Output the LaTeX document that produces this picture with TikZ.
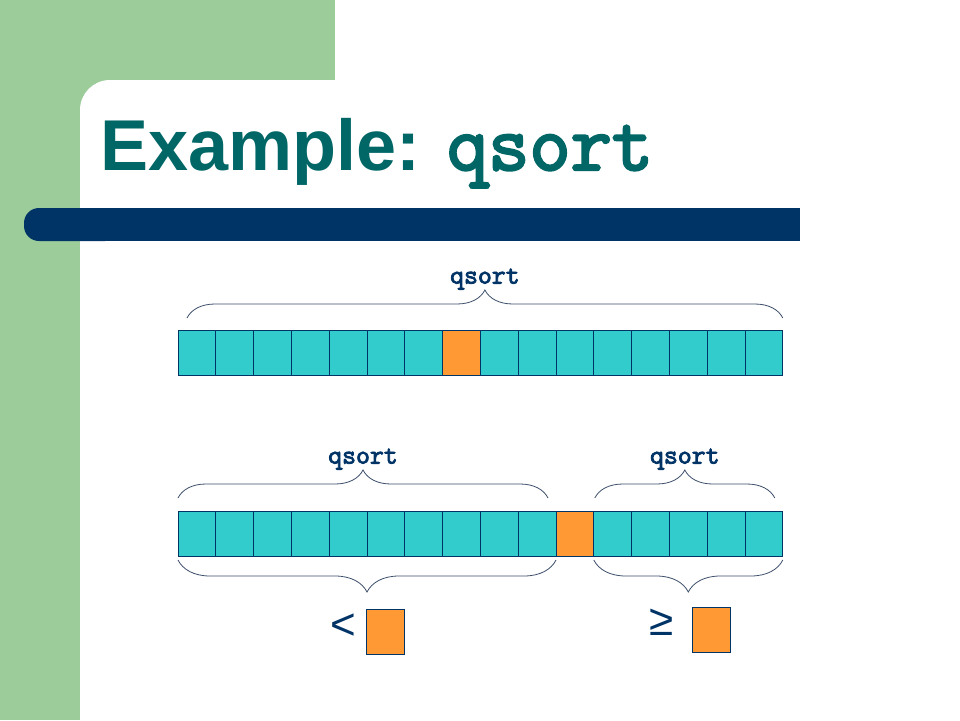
\documentclass[tikz,border=0pt]{standalone}
\usepackage{fontspec}
\setmainfont{Liberation Sans}
\newfontfamily\codefont{Latin Modern Mono}[FakeBold=3]
\usetikzlibrary{decorations.pathreplacing}
\definecolor{slidegreen}{HTML}{9CCC9A}
\definecolor{titleteal}{HTML}{006666}
\definecolor{barnavy}{HTML}{003366}
\definecolor{elemcol}{HTML}{33CCCC}
\definecolor{pivotcol}{HTML}{FF9933}
\definecolor{bracecol}{HTML}{3D4F6B}
\begin{document}
\begin{tikzpicture}[x=1pt, y=-1pt,
    C/.style={draw=barnavy, line width=0.8pt, fill=elemcol, minimum width=37.8pt,
      minimum height=45pt, inner sep=0pt, outer sep=0pt},
    P/.style={C, fill=pivotcol},
    curly/.style={decorate, decoration={brace, amplitude=28pt}, draw=bracecol, line width=0.8pt},
    curlydown/.style={curly, decoration={mirror, amplitude=32pt}},
    L/.style={font=\codefont\fontsize{27}{27}\selectfont, text=barnavy, inner sep=1pt},
    S/.style={font=\fontsize{44}{44}\selectfont, text=barnavy, inner sep=0pt}
  ]
  \useasboundingbox (0,0) rectangle (960,720);
  % slide background
  \fill[white] (0,0) rectangle (960,720);
  \fill[slidegreen] (0,0) rectangle (335,720);
  \fill[white, rounded corners=30pt] (80,80) rectangle (960,720);
  \fill[white] (160,80) rectangle (960,720);
  \fill[white] (80,160) rectangle (960,720);
  \fill[barnavy, rounded corners=15pt] (24,208) rectangle (120,241);
  \fill[barnavy] (60,208) rectangle (800,241);
  \node[anchor=base west, inner sep=0pt, text=titleteal,
    font=\bfseries\fontsize{72}{72}\selectfont] (title) at (100,170)
    {Example: {\codefont\fontsize{80}{80}\selectfont qsort}};

  % first array
  \foreach \i in {0,...,15}{
    \ifnum\i=7 \def\col{pivotcol}\else\def\col{elemcol}\fi
    \node[C, fill=\col] (a\i) at ({178+37.8*(\i+0.5)}, 352.5) {};
  }
  \coordinate (s1) at ([shift={(9,-12)}]a0.north west);
  \coordinate (e1) at ([shift={(0,-12)}]a15.north east);
  \draw[curly] (s1) -- node[L, above=27pt] (t1) {qsort} (e1);

  % after partition
  \foreach \i in {0,...,15}{
    \ifnum\i=10 \def\col{pivotcol}\else\def\col{elemcol}\fi
    \node[C, fill=\col] (b\i) at ({178+37.8*(\i+0.5)}, 533.5) {};
  }
  \coordinate (s2) at ([shift={(0,-13)}]b0.north west);
  \coordinate (e2) at ([shift={(-8,-13)}]b9.north east);
  \coordinate (s3) at ([shift={(1,-13)}]b11.north west);
  \coordinate (e3) at ([shift={(-8,-13)}]b15.north east);
  \draw[curly] (s2) -- node[L, above=27pt] (t2) {qsort} (e2);
  \draw[curly] (s3) -- node[L, above=27pt] (t3) {qsort} (e3);

  \coordinate (s4) at ([shift={(0,4)}]b0.south west);
  \coordinate (e4) at ([shift={(0,4)}]b9.south east);
  \coordinate (s5) at ([shift={(0,4)}]b11.south west);
  \coordinate (e5) at ([shift={(0,4)}]b15.south east);
  \draw[curlydown] (s4) -- (e4);
  \draw[curlydown] (s5) -- (e5);

  % comparison with the pivot
  \node[P] (lo) at (385.5,632) {};
  \node[P] (hi) at (711.5,630) {};
  \node[S] (lt) at (343,627) {<};
  \node[S] (ge) at (662,622) {≥};
\end{tikzpicture}
\end{document}
